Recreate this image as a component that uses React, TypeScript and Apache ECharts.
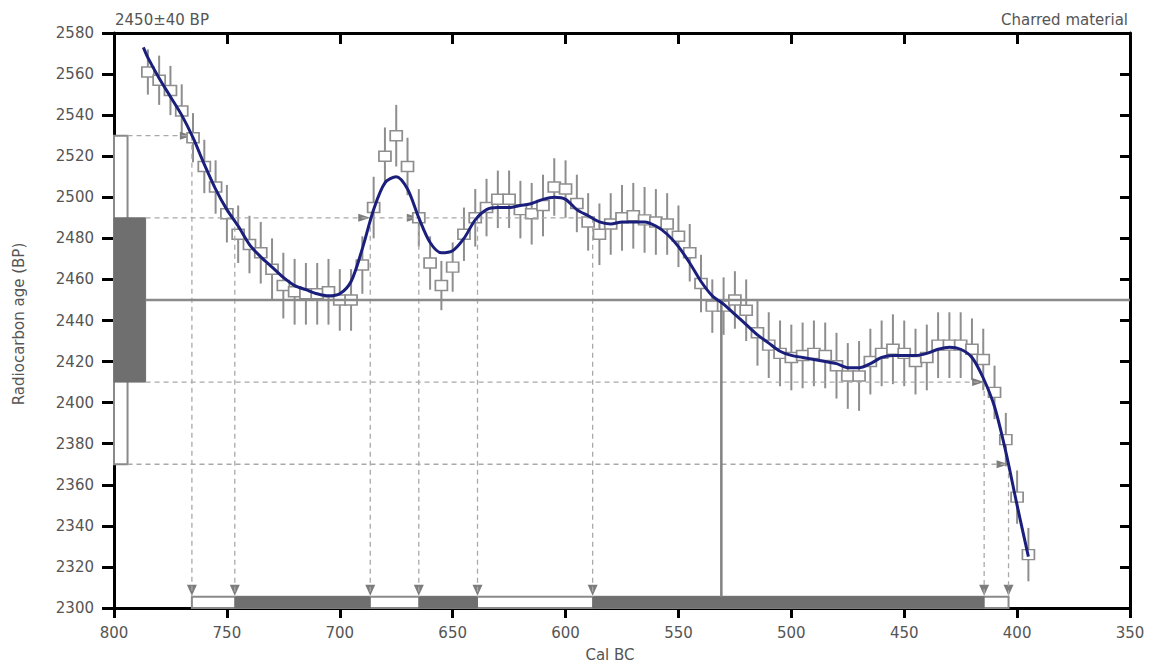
import React, { useEffect, useRef } from "react";
import * as echarts from "echarts";

// ---- data ----
const xTickMin = 350;
const xTickMax = 800;
const xTickStep = 50;
const yTickMin = 2300;
const yTickMax = 2580;
const yTickStep = 20;

const titleLeft = "2450±40 BP";
const titleRight = "Charred material";
const xName = "Cal BC";
const yName = "Radiocarbon age (BP)";

// calibration data points (Cal BC, 14C age, 1-sigma error)
const dataYears = [785, 780, 775, 770, 765, 760, 755, 750, 745, 740, 735, 730, 725, 720, 715, 710, 705, 700, 695, 690, 685, 680, 675, 670, 665, 660, 655, 650, 645, 640, 635, 630, 625, 620, 615, 610, 605, 600, 595, 590, 585, 580, 575, 570, 565, 560, 555, 550, 545, 540, 535, 530, 525, 520, 515, 510, 505, 500, 495, 490, 485, 480, 475, 470, 465, 460, 455, 450, 445, 440, 435, 430, 425, 420, 415, 410, 405, 400, 395];
const dataAges = [2561, 2557, 2552, 2542, 2529, 2515, 2505, 2492, 2482, 2477, 2473, 2465, 2457, 2454, 2453, 2453, 2454, 2450, 2450, 2467, 2495, 2520, 2530, 2515, 2490, 2468, 2457, 2466, 2482, 2490, 2495, 2499, 2499, 2494, 2492, 2496, 2505, 2504, 2497, 2488, 2482, 2487, 2490, 2491, 2489, 2488, 2487, 2481, 2473, 2458, 2447, 2447, 2450, 2445, 2434, 2428, 2424, 2422, 2423, 2424, 2423, 2418, 2413, 2413, 2420, 2424, 2426, 2424, 2420, 2422, 2428, 2428, 2428, 2426, 2421, 2405, 2382, 2354, 2326];
const dataErrs = [11, 12, 12, 13, 12, 13, 13, 14, 14, 14, 15, 15, 16, 16, 15, 15, 16, 15, 15, 14, 15, 14, 15, 14, 14, 13, 12, 12, 13, 14, 14, 14, 14, 14, 15, 15, 14, 14, 14, 14, 15, 15, 16, 16, 16, 16, 15, 15, 14, 14, 13, 14, 14, 15, 16, 16, 16, 16, 16, 16, 16, 16, 16, 17, 16, 16, 17, 16, 16, 16, 16, 16, 16, 15, 15, 13, 13, 13, 13];

// smoothed calibration curve
const curveYears = [787, 785, 780, 775, 770, 765, 760, 755, 750, 745, 740, 735, 730, 725, 720, 715, 710, 705, 700, 695, 690, 685, 680, 675, 670, 665, 660, 655, 650, 645, 640, 635, 630, 625, 620, 615, 610, 605, 600, 595, 590, 585, 580, 575, 570, 565, 560, 555, 550, 545, 540, 535, 530, 525, 520, 515, 510, 505, 500, 495, 490, 485, 480, 475, 470, 465, 460, 455, 450, 445, 440, 435, 430, 425, 420, 415, 410, 405, 400, 395];
const curveAges = [2573, 2568, 2558, 2549, 2540, 2529, 2516, 2504, 2494, 2486, 2477, 2471, 2466, 2461, 2457, 2455, 2453, 2452, 2453, 2459, 2475, 2494, 2507, 2510, 2504, 2490, 2478, 2473, 2474, 2480, 2489, 2494, 2495, 2495, 2496, 2497, 2499, 2500, 2499, 2494, 2491, 2488, 2487, 2488, 2488, 2488, 2486, 2482, 2476, 2468, 2459, 2452, 2448, 2443, 2438, 2433, 2429, 2425, 2423, 2422, 2421, 2420, 2419, 2417, 2417, 2419, 2422, 2423, 2423, 2423, 2424, 2426, 2427, 2426, 2422, 2412, 2398, 2376, 2350, 2325];

// measurement
const measAge = 2450;
const sigma1Ages = [2410, 2490];
const sigma2Ages = [2370, 2530];
// calibrated ranges (Cal BC)
const sigma2Range = [765.5, 403.8];
const sigma1Ranges = [
  [746.5, 686.5],
  [665, 639],
  [588, 414.6],
];
const interceptYear = 531;
// intercept points: [year, age]
const upperSigma2Cross = [[765.5, 2530]];
const sigma1UpperCross = [[746.5, 2490], [686.5, 2490], [665, 2490], [639, 2490], [588, 2490]];
const sigma1LowerCross = [[414.6, 2410]];
const sigma2LowerCross = [[403.8, 2370]];
// crossings that carry a right-pointing arrow
const arrowCross = [[765.5, 2530], [686.5, 2490], [665, 2490], [414.6, 2410], [403.8, 2370]];
// widths of the age distribution boxes at the left (Cal BC)
const box2Right = 794;
const box1Right = 786;
const barTop = 2305.5;

const FONT = "DejaVu Sans";
const GRAY_TXT = "#555555";
const DASH = "#a9a9a9";
const TICK = "#000000";

export default function App() {
  const ref = useRef<HTMLDivElement>(null);
  useEffect(() => {
    if (!ref.current) return;
    const chart = echarts.init(ref.current, undefined, { renderer: "svg" });

    const crosses = [...upperSigma2Cross, ...sigma1UpperCross, ...sigma1LowerCross, ...sigma2LowerCross];
    const dashedSeries: any[] = [];
    const hLines = [
      [[box2Right, sigma2Ages[1]], [sigma2Range[0], sigma2Ages[1]]],
      [[box1Right, sigma1Ages[1]], [sigma1Ranges[2][0], sigma1Ages[1]]],
      [[box1Right, sigma1Ages[0]], [sigma1Ranges[2][1], sigma1Ages[0]]],
      [[box2Right, sigma2Ages[0]], [sigma2Range[1], sigma2Ages[0]]],
    ];
    hLines.forEach((d) =>
      dashedSeries.push({
        type: "line",
        data: d,
        symbol: "none",
        silent: true,
        lineStyle: { color: DASH, width: 1.3, type: [5, 4] },
      })
    );
    crosses.forEach((c) =>
      dashedSeries.push({
        type: "line",
        data: [c, [c[0], barTop]],
        symbol: "none",
        silent: true,
        lineStyle: { color: DASH, width: 1.3, type: [5, 4] },
      })
    );

    const tick = (inside: boolean, length: number) => ({
      show: true,
      inside,
      length,
      interval: 0,
      lineStyle: { show: true, color: TICK, width: 3, opacity: 1 },
    });

    const option: any = {
      animation: false,
      backgroundColor: "#ffffff",
      grid: { left: 114, right: 19, top: 33, bottom: 56, containLabel: false },
      xAxis: [
        {
          type: "value",
          min: xTickMin,
          max: xTickMax,
          interval: xTickStep,
          inverse: true,
          position: "bottom",
          axisLine: { show: true, onZero: false, lineStyle: { color: "#000", width: 3 } },
          axisTick: tick(false, 10),
          axisLabel: { color: GRAY_TXT, fontSize: 15, fontFamily: FONT, margin: 17, formatter: (v: number) => String(v) },
          splitLine: { show: false },
        },
        {
          type: "value",
          min: xTickMin,
          max: xTickMax,
          interval: xTickStep,
          inverse: true,
          position: "top",
          axisLine: { show: true, onZero: false, lineStyle: { color: "#000", width: 3 } },
          axisTick: tick(true, 11),
          axisLabel: { show: false },
          splitLine: { show: false },
        },
      ],
      yAxis: [
        {
          type: "value",
          min: yTickMin,
          max: yTickMax,
          interval: yTickStep,
          position: "left",
          axisLine: { show: true, onZero: false, lineStyle: { color: "#000", width: 3 } },
          axisTick: tick(false, 12),
          axisLabel: { color: GRAY_TXT, fontSize: 15, fontFamily: FONT, margin: 20, formatter: (v: number) => String(v) },
          splitLine: { show: false },
        },
        {
          type: "value",
          min: yTickMin,
          max: yTickMax,
          interval: yTickStep,
          position: "right",
          axisLine: { show: true, onZero: false, lineStyle: { color: "#000", width: 3 } },
          axisTick: tick(true, 10),
          axisLabel: { show: false },
          splitLine: { show: false },
        },
      ],
      graphic: [
        {
          type: "text",
          x: 115,
          y: 20,
          style: { text: titleLeft, fill: GRAY_TXT, font: `15px '${FONT}'`, align: "left", verticalAlign: "middle" },
        },
        {
          type: "text",
          x: 1128,
          y: 20,
          style: { text: titleRight, fill: GRAY_TXT, font: `15px '${FONT}'`, align: "right", verticalAlign: "middle" },
        },
        {
          type: "text",
          x: 610,
          y: 655,
          style: { text: xName, fill: GRAY_TXT, font: `15px '${FONT}'`, align: "center", verticalAlign: "middle" },
        },
        {
          type: "text",
          x: 19,
          y: 324,
          rotation: Math.PI / 2,
          style: { text: yName, fill: GRAY_TXT, font: `15px '${FONT}'`, align: "center", verticalAlign: "middle" },
        },
      ],
      series: [
        ...dashedSeries,
        {
          type: "line",
          data: [[box1Right, measAge], [xTickMin, measAge]],
          symbol: "none",
          silent: true,
          lineStyle: { color: "#8a8a8a", width: 2.5 },
        },
        {
          type: "line",
          data: [[interceptYear, measAge], [interceptYear, barTop]],
          symbol: "none",
          silent: true,
          lineStyle: { color: "#828282", width: 2.5 },
        },
        {
          type: "custom",
          silent: true,
          data: dataYears.map((y, i) => [y, dataAges[i], dataErrs[i]]),
          encode: { x: 0, y: 1 },
          renderItem: (params: any, api: any) => {
            const x = api.value(0);
            const v = api.value(1);
            const e = api.value(2);
            const t = api.coord([x, v + e]);
            const b = api.coord([x, v - e]);
            return {
              type: "line",
              shape: { x1: t[0], y1: t[1], x2: b[0], y2: b[1] },
              style: { stroke: "#8e8e8e", lineWidth: 2 },
            };
          },
        },
        {
          type: "scatter",
          silent: true,
          data: dataYears.map((y, i) => [y, dataAges[i]]),
          symbol: "rect",
          symbolSize: [12, 10],
          itemStyle: { color: "#ffffff", borderColor: "#8e8e8e", borderWidth: 1.6, opacity: 1 },
        },
        {
          type: "line",
          data: curveYears.map((y, i) => [y, curveAges[i]]),
          symbol: "none",
          smooth: 0.3,
          silent: true,
          lineStyle: { color: "#1b1f7c", width: 3 },
        },
        {
          type: "custom",
          silent: true,
          data: [
            [sigma2Range[0], sigma2Range[1], yTickMin, barTop, 0],
            ...sigma1Ranges.map((r) => [r[0], r[1], yTickMin, barTop, 1]),
            [xTickMax, box2Right, sigma2Ages[0], sigma2Ages[1], 0],
            [xTickMax, box1Right, sigma1Ages[0], sigma1Ages[1], 1],
          ],
          encode: { x: [0, 1], y: [2, 3] },
          renderItem: (params: any, api: any) => {
            const a = api.coord([api.value(0), api.value(3)]);
            const b = api.coord([api.value(1), api.value(2)]);
            const filled = api.value(4) === 1;
            const x = Math.min(a[0], b[0]);
            const y = Math.min(a[1], b[1]);
            return {
              type: "rect",
              shape: { x, y, width: Math.abs(b[0] - a[0]), height: Math.abs(b[1] - a[1]) },
              style: filled
                ? { fill: "#6f6f6f", stroke: "#6f6f6f", lineWidth: 1 }
                : { fill: "#ffffff", stroke: "#8a8a8a", lineWidth: 2 },
            };
          },
        },
        {
          type: "custom",
          silent: true,
          data: [
            ...arrowCross.map((c) => [c[0], c[1], 0]),
            ...crosses.map((c) => [c[0], barTop, 1]),
          ],
          encode: { x: 0, y: 1 },
          renderItem: (params: any, api: any) => {
            const p = api.coord([api.value(0), api.value(1)]);
            const dir = api.value(2);
            const pts =
              dir === 0
                ? [[p[0], p[1]], [p[0] - 12, p[1] - 4], [p[0] - 12, p[1] + 4]]
                : [[p[0], p[1] - 1], [p[0] - 5, p[1] - 12], [p[0] + 5, p[1] - 12]];
            return {
              type: "polygon",
              shape: { points: pts },
              style: { fill: "#7c7c7c" },
            };
          },
        },
      ],
    };
    chart.setOption(option);
    return () => chart.dispose();
  }, []);
  return (
    <div
      ref={ref}
      style={{ position: "absolute", left: 0, top: 0, width: 1149, height: 664, background: "#fff" }}
    />
  );
}
